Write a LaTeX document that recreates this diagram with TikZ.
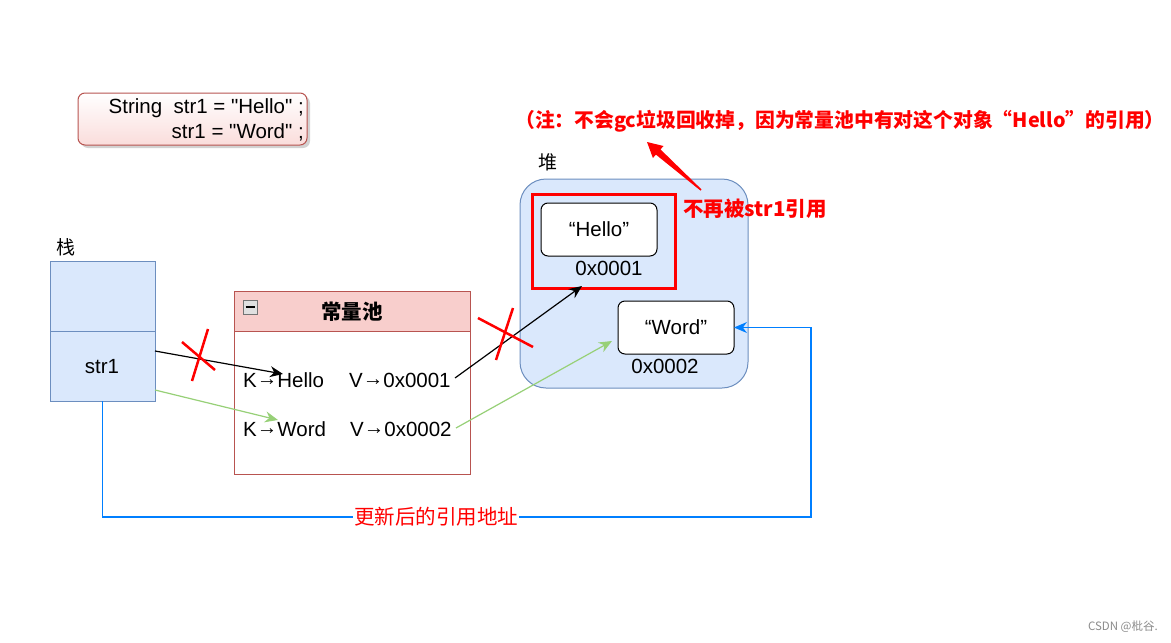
\documentclass[tikz,border=0pt]{standalone}
\usepackage{fontspec}
\setmainfont{Liberation Sans}
\newfontfamily\codefont{Liberation Sans}
\newfontfamily\cjk{Noto Sans CJK SC}
\usetikzlibrary{arrows.meta,shadows,calc}
\definecolor{bluefill}{HTML}{DAE8FC}
\definecolor{blueline}{HTML}{6C8EBF}
\definecolor{pinkfill}{HTML}{F8CECC}
\definecolor{redline}{HTML}{B85450}
\definecolor{greenline}{HTML}{97D077}
\definecolor{linkblue}{HTML}{007FFF}
\definecolor{annred}{HTML}{FF0000}
\newcommand{\rarr}{\raisebox{2pt}{→}}
\tikzset{
  box/.style={draw, anchor=north west, outer sep=0pt, inner sep=0pt},
  stackcell/.style={box, fill=bluefill, draw=blueline, line width=1pt, minimum width=105pt, minimum height=70pt},
  objbox/.style={box, fill=white, draw=black, line width=1pt, rounded corners=7pt, minimum width=116pt, minimum height=53pt},
  txt/.style={font=\fontsize{20.5}{24}\selectfont, inner sep=0pt},
  cjktxt/.style={font=\cjk\fontsize{19}{22}\selectfont, inner sep=0pt},
  annot/.style={font=\cjk\bfseries\fontsize{19.8}{24}\selectfont, text=annred, inner sep=0pt},
  blackarrow/.style={draw=black, line width=1.2pt, -{Stealth[length=13pt,width=11pt]}},
  greenarrow/.style={draw=greenline, line width=1.2pt, -{Stealth[length=13pt,width=11pt]}},
  bluearrow/.style={draw=linkblue, line width=1.2pt, -{Stealth[length=13pt,width=11pt]}},
  crossmark/.style={draw=annred, line width=2.5pt},
}
\begin{document}
\begin{tikzpicture}[x=1pt,y=-1pt]
\useasboundingbox[fill=white] (0,0) rectangle (1171,643);

% code box
\node[box, draw=redline, line width=1pt, rounded corners=7pt, top color=white, bottom color=pinkfill!70,
      minimum width=229pt, minimum height=52pt,
      drop shadow={shadow xshift=3pt, shadow yshift=-3pt, fill=black!35}] (code) at (78,93) {};
\node[inner sep=0pt, anchor=east, align=right, font=\codefont\fontsize{20.5}{25}\selectfont] (codetxt) at (304,120)
  {String\ \ str1 = "Hello" ;\\str1 = "Word" ;};

% annotation
\node[annot, anchor=west] (note) at (515,121) {（注：不会gc垃圾回收掉，因为常量池中有对这个对象“Hello”的引用）};

% stack
\node[cjktxt, anchor=west] (stacklbl) at (56,247) {栈};
\node[stackcell] (stacktop) at (50,261) {};
\node[stackcell] (stackbot) at (50,331) {};
\node[txt] (str1) at (102,367) {str1};

% constant pool
\node[box, fill=pinkfill, draw=redline, line width=1pt, minimum width=236pt, minimum height=40pt] (poolhead) at (234,291) {};
\node[box, fill=white, draw=redline, line width=1pt, minimum width=236pt, minimum height=143pt] (poolbody) at (234,331) {};
\node[font=\cjk\bfseries\fontsize{20.5}{24}\selectfont, inner sep=0pt] (pooltitle) at (352,312) {常量池};
\node[box, fill=black!12, draw=black!55, line width=0.8pt, minimum width=14pt, minimum height=14pt] (minus) at (243,300) {};
\draw[line width=1.6pt] ($(minus.center)+(-4.5,0)$) -- ($(minus.center)+(4.5,0)$);
\node[txt, anchor=west] (kh) at (243,380) {K\rarr Hello};
\node[txt, anchor=west] (vh) at (349,380) {V\rarr 0x0001};
\node[txt, anchor=west] (kw) at (243,429) {K\rarr Word};
\node[txt, anchor=west] (vw) at (350,429) {V\rarr 0x0002};

% heap
\node[cjktxt, anchor=west] (heaplbl) at (538,162) {堆};
\node[box, fill=bluefill, draw=blueline, line width=1pt, rounded corners=26pt, minimum width=228pt, minimum height=209pt] (heap) at (520,179) {};
\node[box, draw=annred, line width=3pt, minimum width=143pt, minimum height=94pt] (redrect) at (532,194) {};
\node[objbox] (hello) at (541,203) {};
\node[txt] at (hello.center) {“Hello”};
\node[txt] (addr1) at (609,268) {0x0001};
\node[objbox] (word) at (618,301) {};
\node[txt] at (word.center) {“Word”};
\node[txt] (addr2) at (665,366) {0x0002};
\node[annot, anchor=west, font=\cjk\bfseries\fontsize{20.5}{24}\selectfont] (notref) at (683,209) {不再被str1引用};

% red pointer arrow (tapered)
\coordinate (ptail) at (701,190);
\coordinate (phead) at (647,142);
\fill[annred] (phead) -- (663.5,146) -- (660.5,149.4) -- (701.5,189.4) -- (700.5,190.6) -- (655.9,154.6) -- (652.9,158) -- cycle;

% connectors
\coordinate (s1) at (155,351);
\coordinate (a1) at (283,374);
\draw[blackarrow] (s1) -- (a1);
\coordinate (s2) at (155,390);
\coordinate (a2) at (278,420);
\draw[greenarrow] (s2) -- (a2);
\coordinate (v1) at (455,378);
\coordinate (h1) at (582,286);
\draw[blackarrow] (v1) -- (h1);
\coordinate (v2) at (456,428);
\coordinate (w1) at (612,341);
\draw[greenarrow] (v2) -- (w1);

% crosses
\draw[crossmark] (182,342) -- (215,370);
\draw[crossmark] (208,329) -- (192,381);
\draw[crossmark] (478,318) -- (533,347);
\draw[crossmark] (513,308) -- (496,360);

% blue update path
\coordinate (corner) at (811,517);
\draw[bluearrow] (stackbot.south) |- (corner) |- (word.east);
\node[font=\cjk\fontsize{20.5}{24}\selectfont, text=annred, fill=white, inner sep=1pt] (upd) at (436,517) {更新后的引用地址};

% watermark
\node[font=\cjk\fontsize{11.5}{13}\selectfont, text=black!45, anchor=east, inner sep=0pt] (wm) at (1158,627) {CSDN @枇谷.};
\end{tikzpicture}
\end{document}
